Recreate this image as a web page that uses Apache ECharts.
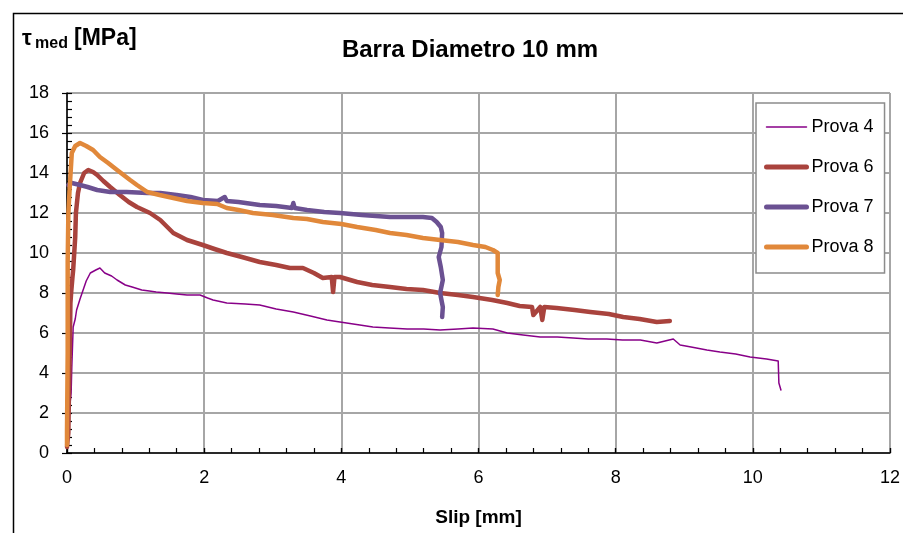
<!DOCTYPE html>
<html>
<head>
<meta charset="utf-8">
<script src="https://cdn.jsdelivr.net/npm/echarts@6/dist/echarts.min.js"></script>
<style>
  html, body { margin: 0; padding: 0; background: #fff; }
  #chart { width: 903px; height: 533px; }
</style>
</head>
<body>
<div id="chart"></div>
<script>
// slip [mm] / tau [MPa]
var prova4X = [0, 0.01, 0.03, 0.06, 0.07, 0.09, 0.12, 0.14, 0.19, 0.22, 0.28, 0.34, 0.42, 0.48, 0.55, 0.65, 0.73, 0.85, 0.95, 1.09, 1.2, 1.3, 1.46, 1.6, 1.75, 1.94, 2.05, 2.13, 2.33, 2.6, 2.81, 3.05, 3.3, 3.55, 3.79, 3.98, 4.27, 4.46, 4.7, 4.96, 5.2, 5.44, 5.7, 5.92, 6.21, 6.42, 6.65, 6.9, 7.15, 7.38, 7.6, 7.87, 8.1, 8.36, 8.6, 8.84, 8.94, 9.1, 9.33, 9.52, 9.75, 9.96, 10.2, 10.37, 10.38, 10.41];
var prova4Y = [0.5, 0.8, 2.0, 3.0, 4.3, 6.3, 6.7, 7.15, 7.7, 8.0, 8.6, 9.0, 9.15, 9.25, 9.0, 8.85, 8.65, 8.4, 8.3, 8.15, 8.1, 8.05, 8.0, 7.95, 7.9, 7.9, 7.75, 7.65, 7.5, 7.45, 7.4, 7.2, 7.05, 6.85, 6.65, 6.55, 6.4, 6.3, 6.25, 6.2, 6.2, 6.15, 6.2, 6.25, 6.2, 6.0, 5.9, 5.8, 5.8, 5.75, 5.7, 5.7, 5.65, 5.65, 5.5, 5.7, 5.4, 5.3, 5.15, 5.05, 4.95, 4.8, 4.7, 4.6, 3.5, 3.15];

var prova6X = [0, 0.01, 0.02, 0.03, 0.04, 0.05, 0.06, 0.08, 0.09, 0.12, 0.13, 0.16, 0.19, 0.25, 0.31, 0.38, 0.44, 0.53, 0.63, 0.77, 0.9, 1.02, 1.21, 1.36, 1.55, 1.75, 1.98, 2.15, 2.33, 2.55, 2.81, 3.05, 3.25, 3.44, 3.6, 3.73, 3.86, 3.88, 3.9, 3.98, 4.23, 4.45, 4.71, 4.95, 5.19, 5.44, 5.7, 5.92, 6.2, 6.42, 6.6, 6.78, 6.8, 6.9, 6.93, 6.96, 7.14, 7.4, 7.63, 7.9, 8.11, 8.35, 8.6, 8.79];
var prova6Y = [0.3, 0.7, 1.0, 3.3, 5.0, 7.5, 8.0, 8.8, 9.15, 10.8, 12.0, 13.0, 13.5, 14.0, 14.15, 14.05, 13.9, 13.6, 13.3, 12.9, 12.55, 12.3, 12.0, 11.65, 11.0, 10.65, 10.4, 10.2, 10.0, 9.8, 9.55, 9.4, 9.25, 9.25, 9.0, 8.75, 8.8, 8.05, 8.8, 8.8, 8.55, 8.4, 8.3, 8.2, 8.15, 8.0, 7.9, 7.8, 7.65, 7.5, 7.35, 7.3, 6.9, 7.3, 6.65, 7.3, 7.25, 7.15, 7.05, 6.95, 6.8, 6.7, 6.55, 6.6];

var prova7X = [0.02, 0.07, 0.19, 0.3, 0.44, 0.63, 0.87, 1.17, 1.36, 1.6, 1.8, 1.98, 2.2, 2.3, 2.33, 2.5, 2.81, 3.05, 3.28, 3.3, 3.32, 3.5, 3.75, 3.98, 4.3, 4.71, 5.0, 5.19, 5.32, 5.39, 5.45, 5.47, 5.46, 5.42, 5.45, 5.48, 5.44, 5.48, 5.47];
var prova7Y = [13.4, 13.5, 13.4, 13.3, 13.15, 13.05, 13.05, 13.0, 13.0, 12.9, 12.8, 12.65, 12.6, 12.8, 12.6, 12.55, 12.4, 12.35, 12.25, 12.5, 12.25, 12.15, 12.05, 12.0, 11.9, 11.8, 11.8, 11.8, 11.75, 11.55, 11.3, 11.0, 10.3, 9.8, 9.3, 8.65, 8.0, 7.3, 6.8];

var prova8X = [0, 0, 0.01, 0.01, 0.02, 0.04, 0.07, 0.12, 0.19, 0.28, 0.38, 0.48, 0.6, 0.73, 0.92, 1.02, 1.17, 1.35, 1.55, 1.75, 1.98, 2.19, 2.33, 2.5, 2.71, 3.0, 3.3, 3.5, 3.73, 4.0, 4.23, 4.5, 4.71, 4.95, 5.19, 5.44, 5.7, 5.92, 6.1, 6.21, 6.28, 6.28, 6.31, 6.29, 6.28];
var prova8Y = [0.4, 1.05, 5.0, 9.6, 12.0, 13.3, 15.0, 15.35, 15.5, 15.35, 15.15, 14.8, 14.5, 14.15, 13.65, 13.4, 13.05, 12.9, 12.75, 12.6, 12.5, 12.45, 12.25, 12.15, 12.0, 11.9, 11.75, 11.7, 11.55, 11.45, 11.3, 11.15, 11.0, 10.9, 10.75, 10.65, 10.55, 10.4, 10.3, 10.15, 10.0, 9.0, 8.65, 8.3, 7.9];

var seriesNames = ['Prova 4', 'Prova 6', 'Prova 7', 'Prova 8'];
var seriesColors = ['#880088', '#a9433d', '#6b5192', '#e1883a'];
var seriesWidths = [1.5, 4.5, 4.5, 4.5];

function pairs(xs, ys) {
  return xs.map(function (x, i) { return [x, ys[i]]; });
}

var font = '"Liberation Sans", Arial, sans-serif';
var chart = echarts.init(document.getElementById('chart'), null, { renderer: 'canvas' });

function lineSeries(i, data) {
  return {
    name: seriesNames[i],
    type: 'line',
    data: data,
    showSymbol: false,
    symbol: 'none',
    smooth: false,
    animation: false,
    lineStyle: { color: seriesColors[i], width: seriesWidths[i], cap: 'round', join: 'round' },
    itemStyle: { color: seriesColors[i] }
  };
}

// inner axis = labels, line, inside ticks; outer axis = the outward half of the major ticks
var axisBase = {
  type: 'value',
  min: 0,
  interval: 2,
  axisLine: { show: true, lineStyle: { color: '#000', width: 1.5 } },
  axisTick: { show: true, inside: true, length: 5, lineStyle: { color: '#000', width: 1.2 } },
  minorTick: { show: true, splitNumber: 5, length: 5, lineStyle: { color: '#000', width: 1.2 } },
  splitLine: { show: true, lineStyle: { color: '#a6a6a6', width: 2 } },
  axisLabel: { color: '#000', fontSize: 18, fontFamily: font }
};

function outerAxis(max) {
  return {
    type: 'value', min: 0, max: max, interval: 2,
    axisLine: { show: false },
    axisTick: { show: true, inside: false, length: 5, lineStyle: { color: '#000', width: 1.2 } },
    axisLabel: { show: false },
    splitLine: { show: false }
  };
}

chart.setOption({
  backgroundColor: '#fff',
  animation: false,
  grid: { left: 67, right: 13, top: 93, bottom: 80, containLabel: false },
  title: {
    text: 'Barra Diametro 10 mm',
    left: 465,
    top: 33,
    textAlign: 'center',
    textStyle: { fontFamily: font, fontSize: 24, fontWeight: 'bold', color: '#000' }
  },
  legend: {
    data: seriesNames.map(function (n, i) {
      return { name: n, lineStyle: { width: i === 0 ? 1.5 : 5 } };
    }),
    orient: 'vertical',
    left: 756,
    top: 103,
    padding: [15, 11, 17, 8],
    itemGap: 22,
    itemWidth: 40,
    itemHeight: 16,
    itemStyle: { opacity: 0 },
    backgroundColor: '#fff',
    borderColor: '#8c8c8c',
    borderWidth: 1.5,
    borderRadius: 0,
    textStyle: { fontFamily: font, fontSize: 18, color: '#000' }
  },
  xAxis: [
    Object.assign({}, axisBase, {
      max: 12,
      name: 'Slip [mm]',
      nameLocation: 'middle',
      nameGap: 55,
      nameTextStyle: { fontFamily: font, fontSize: 19, fontWeight: 'bold', color: '#000' },
      axisLabel: Object.assign({}, axisBase.axisLabel, { margin: 16 })
    }),
    outerAxis(12)
  ],
  yAxis: [
    Object.assign({}, axisBase, {
      max: 18,
      axisLabel: Object.assign({}, axisBase.axisLabel, { margin: 18 })
    }),
    Object.assign(outerAxis(18), { position: 'left' })
  ],
  graphic: [
    {
      type: 'rect',
      left: 11, top: 11,
      shape: { width: 1000, height: 1000 },
      style: { fill: 'none', stroke: '#000', lineWidth: 1.5 },
      silent: true
    },
    {
      type: 'text', left: 22, top: 28,
      style: { text: 'τ', font: 'bold 22px ' + font, fill: '#000' }
    },
    {
      type: 'text', left: 35, top: 36,
      style: { text: 'med', font: 'bold 16px ' + font, fill: '#000' }
    },
    {
      type: 'text', left: 74, top: 27,
      style: { text: '[MPa]', font: 'bold 23px ' + font, fill: '#000' }
    }
  ],
  series: [
    lineSeries(0, pairs(prova4X, prova4Y)),
    lineSeries(1, pairs(prova6X, prova6Y)),
    lineSeries(2, pairs(prova7X, prova7Y)),
    lineSeries(3, pairs(prova8X, prova8Y))
  ]
});
</script>
</body>
</html>
